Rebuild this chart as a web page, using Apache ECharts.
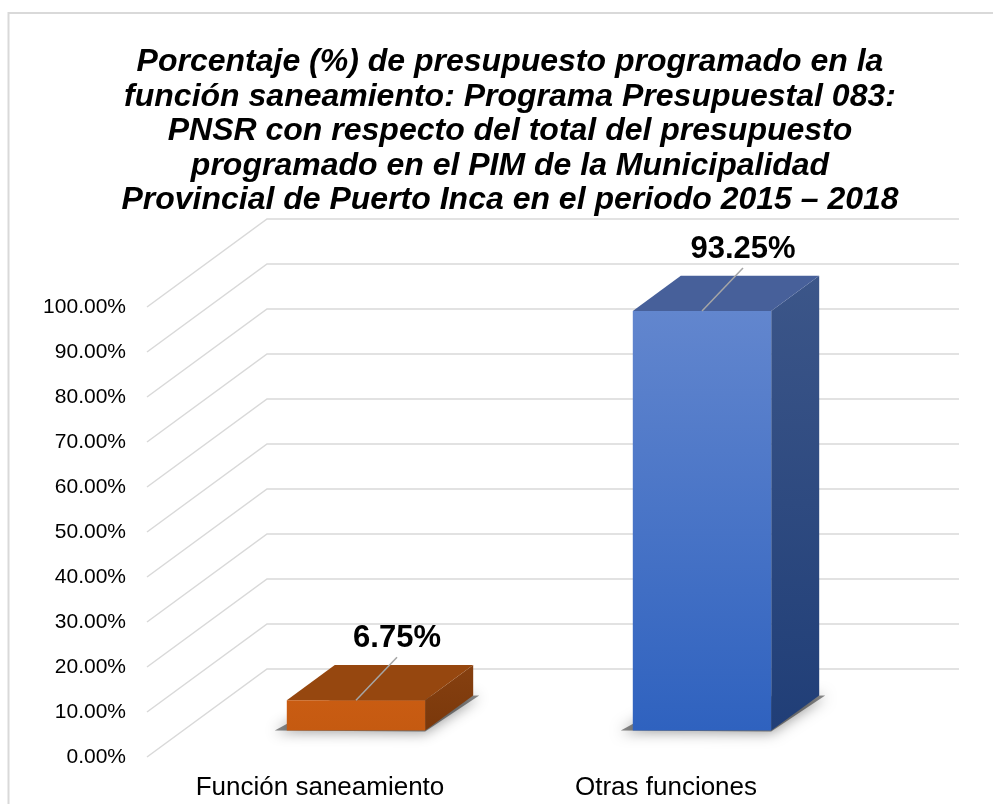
<!DOCTYPE html>
<html><head><meta charset="utf-8">
<script src="https://cdn.jsdelivr.net/npm/echarts@6/dist/echarts.min.js"></script>
<style>html,body{margin:0;padding:0;background:#fff}#c{width:993px;height:804px}</style>
</head><body><div id="c"></div>
<script>
// ---- data ----
const categories = ['Función saneamiento', 'Otras funciones'];
const values = [6.75, 93.25];
const tickValues = [0, 10, 20, 30, 40, 50, 60, 70, 80, 90, 100];
const titleLines = [
  'Porcentaje (%) de presupuesto programado en la',
  'función saneamiento: Programa Presupuestal 083:',
  'PNSR con respecto del total del presupuesto',
  'programado en el PIM de la Municipalidad',
  'Provincial de Puerto Inca en el periodo 2015 \u2013 2018'
];

// ---- styles ----
const DX = 120, DY = 88;          // perspective depth offset of the back wall
const D0 = 0.3, D1 = 0.7;         // bar depth range
const FONT = '"Liberation Sans", Arial, sans-serif';
const barStyles = [
  { front: ['#C95C12', '#C55A11'], top: '#96470F', side: ['#864010', '#7A380B'] },
  { front: ['#6286CE', '#2F62BF'], top: '#47609A', side: ['#3C5689', '#203E77'] }
];

const chart = echarts.init(document.getElementById('c'), null, { renderer: 'canvas' });

function renderGrid(params, api) {
  const cs = params.coordSys;
  const y = api.coord([0, api.value(1)])[1];
  return {
    type: 'polyline',
    shape: { points: [[cs.x, y], [cs.x + DX, y - DY], [cs.x + cs.width + DX, y - DY]] },
    style: { stroke: '#D9D9D9', lineWidth: 1.5, fill: null },
    silent: true
  };
}

function renderBar(params, api) {
  const idx = api.value(0);
  const val = api.value(1);
  const base = api.coord([idx, 0]);
  const top = api.coord([idx, val]);
  const w = api.size([1, 0])[0] * 0.4;
  const fx = DX * D0, fy = -DY * D0;
  const ddx = DX * (D1 - D0), ddy = DY * (D1 - D0);
  const cx = base[0] + fx;
  const xl = cx - w / 2, xr = cx + w / 2;
  const yb = base[1] + fy, yt = top[1] + fy;
  const s = barStyles[idx];
  const lbl = values[idx].toFixed(2) + '%';
  return {
    type: 'group',
    children: [
      { type: 'polygon', shape: { points: [[xl - 12, yb], [xr, yb + 1], [xr + ddx + 6, yb - ddy], [xl + ddx, yb - ddy + 2]] },
        style: { fill: 'rgba(0,0,0,0.45)', shadowBlur: 14, shadowColor: 'rgba(0,0,0,0.9)', shadowOffsetY: 1 }, silent: true },
      { type: 'polygon', shape: { points: [[xr, yt], [xr + ddx, yt - ddy], [xr + ddx, yb - ddy], [xr, yb]] },
        style: { fill: new echarts.graphic.LinearGradient(0, 0, 0, 1, [{ offset: 0, color: s.side[0] }, { offset: 1, color: s.side[1] }]) } },
      { type: 'polygon', shape: { points: [[xl, yt], [xr, yt], [xr + ddx, yt - ddy], [xl + ddx, yt - ddy]] },
        style: { fill: s.top } },
      { type: 'rect', shape: { x: xl, y: yt, width: w, height: yb - yt },
        style: { fill: new echarts.graphic.LinearGradient(0, 0, 0, 1, [{ offset: 0, color: s.front[0] }, { offset: 1, color: s.front[1] }]) } },
      { type: 'line', shape: { x1: cx, y1: yt, x2: cx + 41, y2: yt - 43 },
        style: { stroke: '#A6A6A6', lineWidth: 1.5 } },
      { type: 'text', x: cx + 41, y: yt - 62,
        style: { text: lbl, font: 'bold 31px ' + FONT, fill: '#000', align: 'center', verticalAlign: 'middle' } }
    ]
  };
}

chart.setOption({
  animation: false,
  backgroundColor: '#fff',
  graphic: [
    { type: 'rect', shape: { x: 8.5, y: 13, width: 1100, height: 1000 }, style: { fill: null, stroke: '#D9D9D9', lineWidth: 2 }, silent: true },
    { type: 'text', x: 510, y: 45,
      style: { text: titleLines.join('\n'), font: 'italic bold 32px ' + FONT, lineHeight: 34.5, fill: '#000', align: 'center', verticalAlign: 'top' } }
  ],
  grid: { left: 147, right: 154, top: 307, bottom: 47 },
  xAxis: {
    type: 'category', data: categories,
    axisLine: { show: false }, axisTick: { show: false },
    axisLabel: { fontSize: 26, color: '#000', fontFamily: FONT, margin: 18 },
    splitLine: { show: false }
  },
  yAxis: {
    type: 'value', min: 0, max: 100, interval: 10,
    axisLine: { show: false }, axisTick: { show: false }, splitLine: { show: false },
    axisLabel: { fontSize: 21, color: '#000', fontFamily: FONT, margin: 21, formatter: v => v.toFixed(2) + '%' }
  },
  series: [
    { type: 'custom', renderItem: renderGrid, data: tickValues.map(v => [0, v]), encode: { x: 0, y: 1 }, z: 1, clip: false },
    { type: 'custom', renderItem: renderBar, data: values.map((v, i) => [i, v]), encode: { x: 0, y: 1 }, z: 2, clip: false }
  ]
});
</script>
</body></html>
